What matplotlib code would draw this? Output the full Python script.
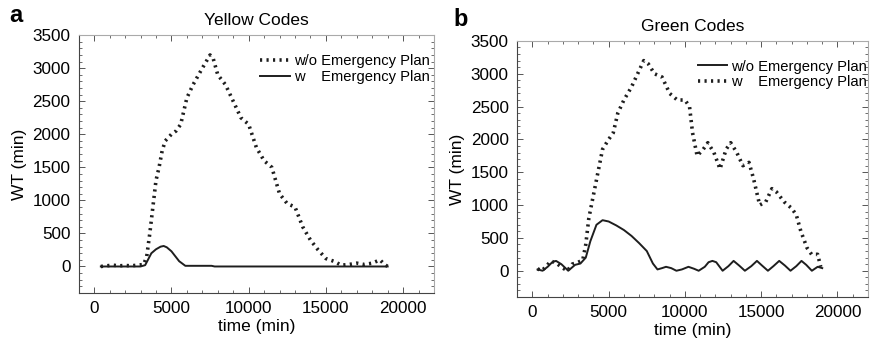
import matplotlib
matplotlib.use("Agg")
import matplotlib.pyplot as plt
from matplotlib.ticker import MultipleLocator

plt.rcParams['font.family'] = ['Liberation Sans', 'DejaVu Sans']

# Yellow codes
yel_wo_t = [430, 800, 1200, 1600, 2000, 2400, 2800, 3200, 3400, 3600, 3800, 4000, 4200, 4400, 4600,
            5000, 5300, 5600, 6000, 6400, 7000, 7500, 7700, 8000, 8500, 9000, 9500, 10000, 10500,
            11000, 11500, 12000, 12500, 13000, 13500, 14000, 14500, 15000, 15500, 16000, 16500,
            17000, 17500, 18000, 18500, 18800, 19000]
yel_wo = [0, 10, 20, 10, 15, 10, 20, 30, 150, 500, 900, 1300, 1500, 1750, 1900,
          2000, 2050, 2150, 2550, 2750, 3000, 3200, 3150, 2900, 2750, 2500, 2250, 2150, 1800,
          1600, 1500, 1100, 950, 900, 600, 400, 250, 120, 80, 20, 30,
          50, 30, 50, 100, 30, 0]
yel_w_t = [430, 1000, 2000, 3000, 3300, 3700, 4000, 4300, 4500, 4700, 5000, 5500, 5900, 7600, 7800, 19000]
yel_w = [0, 0, 0, 0, 20, 200, 260, 300, 310, 290, 230, 80, 10, 10, 0, 0]

# Green codes
grn_wo_t = [340, 670, 1000, 1300, 1550, 1900, 2350, 2800, 3150, 3500, 3800, 4200, 4600, 5000,
            5500, 6000, 6500, 7000, 7500, 7900, 8200, 8500, 8760, 9100, 9440, 9800, 10230, 10600,
            10900, 11300, 11550, 11800, 12050, 12470, 12850, 13190, 13550, 13930, 14350, 14720,
            15050, 15440, 15800, 16180, 16550, 16920, 17300, 17640, 17950, 18320, 18700, 19000]
grn_wo = [20, 0, 60, 130, 150, 100, 0, 90, 110, 200, 450, 700, 770, 750,
          690, 620, 530, 420, 300, 110, 20, 40, 60, 40, 0, 20, 60, 30,
          0, 60, 130, 150, 130, 0, 70, 150, 80, 0, 70, 150, 80, 0, 70, 150, 80, 0, 70, 150,
          90, 0, 60, 40]
grn_w_t = [340, 600, 900, 1200, 1600, 2000, 2300, 2600, 3000, 3300, 3500, 3700, 4000, 4300, 4600,
           5000, 5300, 5600, 6000, 6500, 7000, 7300, 7600, 8000, 8500, 9000, 9500, 10000, 10300,
           10500, 10800, 11200, 11500, 11900, 12300, 12700, 13000, 13400, 13800, 14200, 14500,
           14900, 15300, 15700, 16000, 16500, 17000, 17300, 17600, 18000, 18300, 18700, 18900]
grn_w = [30, 0, 60, 150, 110, 40, 0, 100, 130, 160, 400, 800, 1150, 1500, 1850,
         2000, 2100, 2400, 2600, 2800, 3050, 3200, 3150, 3000, 2950, 2700, 2600, 2600, 2500,
         2100, 1750, 1850, 1950, 1800, 1550, 1850, 1950, 1800, 1600, 1650, 1400,
         1000, 1050, 1250, 1200, 1050, 950, 850, 600, 350, 250, 250, 60]

labels = ['w/o Emergency Plan', 'w    Emergency Plan']
ink = '#1e1e1e'
dots = (0, (0.6, 1.2))
fig = plt.figure(figsize=(8.75, 3.41), dpi=100)


def style_axes(ax):
    ax.set_xlim(-1000, 22000)
    ax.set_ylim(-400, 3500)
    ax.set_xticks([0, 5000, 10000, 15000, 20000])
    ax.set_yticks(range(0, 3501, 500))
    ax.xaxis.set_minor_locator(MultipleLocator(1000))
    ax.yaxis.set_minor_locator(MultipleLocator(100))
    ax.tick_params(which='both', direction='in', top=True, right=True, labelsize=12.3,
                   color='#555555')
    ax.tick_params(which='major', length=4, width=0.7, pad=6)
    ax.tick_params(which='minor', length=2, width=0.6)
    for s in ['left', 'bottom']:
        ax.spines[s].set_color('#444444')
    for s in ['top', 'right']:
        ax.spines[s].set_color('#aaaaaa')
    ax.set_xlabel('time (min)', fontsize=12.5, labelpad=2)
    ax.set_ylabel('WT (min)', fontsize=12.5, labelpad=4)


ax1 = fig.add_axes([0.090, 0.141, 0.406, 0.756])
ax1.plot(yel_wo_t, yel_wo, ls=dots, lw=2.6, color=ink, label=labels[0])
ax1.plot(yel_w_t, yel_w, ls='-', lw=1.4, color=ink, label=labels[1])
style_axes(ax1)
ax1.set_title('Yellow Codes', fontsize=12.5, pad=7)
ax1.legend(loc='upper right', bbox_to_anchor=(1.005, 0.95), frameon=False, fontsize=10.6,
           handlelength=2.0, handletextpad=0.3, labelspacing=0.12, borderaxespad=0.0)

ax2 = fig.add_axes([0.591, 0.129, 0.401, 0.751])
ax2.plot(grn_wo_t, grn_wo, ls='-', lw=1.4, color=ink, label=labels[0])
ax2.plot(grn_w_t, grn_w, ls=dots, lw=2.6, color=ink, label=labels[1])
style_axes(ax2)
ax2.set_title('Green Codes', fontsize=12.5, pad=7)
ax2.legend(loc='upper right', bbox_to_anchor=(1.015, 0.95), frameon=False, fontsize=10.6,
           handlelength=2.0, handletextpad=0.3, labelspacing=0.12, borderaxespad=0.0)

fig.text(0.010, 0.935, 'a', fontsize=17, fontweight='bold')
fig.text(0.518, 0.925, 'b', fontsize=17, fontweight='bold')

fig.savefig('out.png', dpi=100)
